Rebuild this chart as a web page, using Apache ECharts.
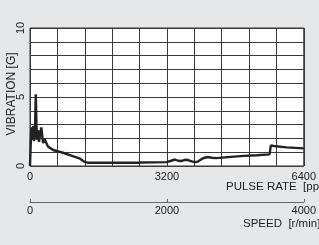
<!DOCTYPE html>
<html>
<head>
<meta charset="utf-8">
<script src="https://cdn.jsdelivr.net/npm/echarts@6/dist/echarts.min.js"></script>
<style>
  html, body { margin: 0; padding: 0; background: #e6e7e9; }
  #chart { width: 319px; height: 245px; }
</style>
</head>
<body>
<div id="chart"></div>
<script>
// pulse rate [pps] and vibration [G]
const pulseRate = [0, 20, 30, 55, 75, 95, 115, 135, 160, 190, 210, 265, 305, 335, 420, 540, 770, 1000, 1155, 1270, 1350,
  1900, 1917, 1940, 2540, 2564, 2590, 3190, 3300, 3390, 3460, 3534, 3620, 3696, 3780, 3851, 3927, 4043, 4158, 4250, 4350,
  4700, 5000, 5300, 5600, 5630, 5700, 6000, 6400];
const vibration = [0, 0.1, 2.8, 1.9, 2.9, 1.8, 2.5, 5.2, 1.9, 2.6, 1.75, 2.8, 1.65, 2.0, 1.42, 1.16, 0.96, 0.72, 0.56, 0.31, 0.24,
  0.24, 0.33, 0.24, 0.24, 0.34, 0.25, 0.28, 0.38, 0.47, 0.38, 0.36, 0.45, 0.43, 0.34, 0.29, 0.32, 0.56, 0.65, 0.6, 0.57,
  0.66, 0.73, 0.78, 0.84, 1.5, 1.45, 1.35, 1.28];

const pulseTicks = [0, 3200, 6400];
const vibTicks = [0, 5, 10];
const speedTicks = [0, 2000, 4000];

const chart = echarts.init(document.getElementById('chart'), null, { renderer: 'canvas' });
const font = 'Liberation Sans, Arial, sans-serif';
const txt = '#222';

const option = {
  backgroundColor: '#e6e7e9',
  animation: false,
  grid: [
    { left: 30, right: 12, top: 28, bottom: 79, show: true, backgroundColor: '#fff', borderColor: '#333', borderWidth: 1 },
    { left: 30, right: 12, top: 201, height: 1 }
  ],
  xAxis: [
    {
      type: 'value', gridIndex: 0, min: 0, max: 6400, interval: 640,
      axisLine: { show: false }, axisTick: { show: false },
      splitLine: { lineStyle: { color: '#3a3a3a', width: 1 } },
      axisLabel: {
        margin: 5, color: txt, fontFamily: font, fontSize: 11,
        formatter: v => pulseTicks.includes(v) ? String(v) : ''
      }
    },
    {
      type: 'value', gridIndex: 1, min: 0, max: 4000, interval: 2000, position: 'bottom',
      axisLine: { show: true, onZero: false, lineStyle: { color: '#666', width: 1 } },
      axisTick: { show: true, inside: true, length: 3, lineStyle: { color: '#666' } },
      splitLine: { show: false },
      axisLabel: {
        margin: 3, color: txt, fontFamily: font, fontSize: 11,
        formatter: v => speedTicks.includes(v) ? String(v) : ''
      }
    }
  ],
  yAxis: [
    {
      type: 'value', gridIndex: 0, min: 0, max: 10, interval: 1,
      axisLine: { show: false }, axisTick: { show: false },
      splitLine: { lineStyle: { color: '#3a3a3a', width: 1 } },
      axisLabel: {
        rotate: 90, margin: 4, color: txt, fontFamily: font, fontSize: 11,
        formatter: v => vibTicks.includes(v) ? String(v) : ''
      }
    },
    { type: 'value', gridIndex: 1, show: false, min: 0, max: 1 }
  ],
  graphic: [
    {
      type: 'text', x: 12, y: 94, rotation: Math.PI / 2,
      style: { text: 'VIBRATION [G]', fill: txt, font: '12px ' + font, align: 'center', verticalAlign: 'middle' }
    },
    {
      type: 'text', x: 226, y: 187,
      style: { text: 'PULSE RATE  [pps]', fill: txt, font: '11.5px ' + font, verticalAlign: 'middle' }
    },
    {
      type: 'text', x: 243, y: 224,
      style: { text: 'SPEED  [r/min]', fill: txt, font: '11.5px ' + font, verticalAlign: 'middle' }
    }
  ],
  series: [
    {
      type: 'line', xAxisIndex: 0, yAxisIndex: 0,
      data: pulseRate.map((p, i) => [p, vibration[i]]),
      showSymbol: false,
      lineStyle: { color: '#222', width: 2.4 }
    }
  ]
};
chart.setOption(option);
</script>
</body>
</html>
